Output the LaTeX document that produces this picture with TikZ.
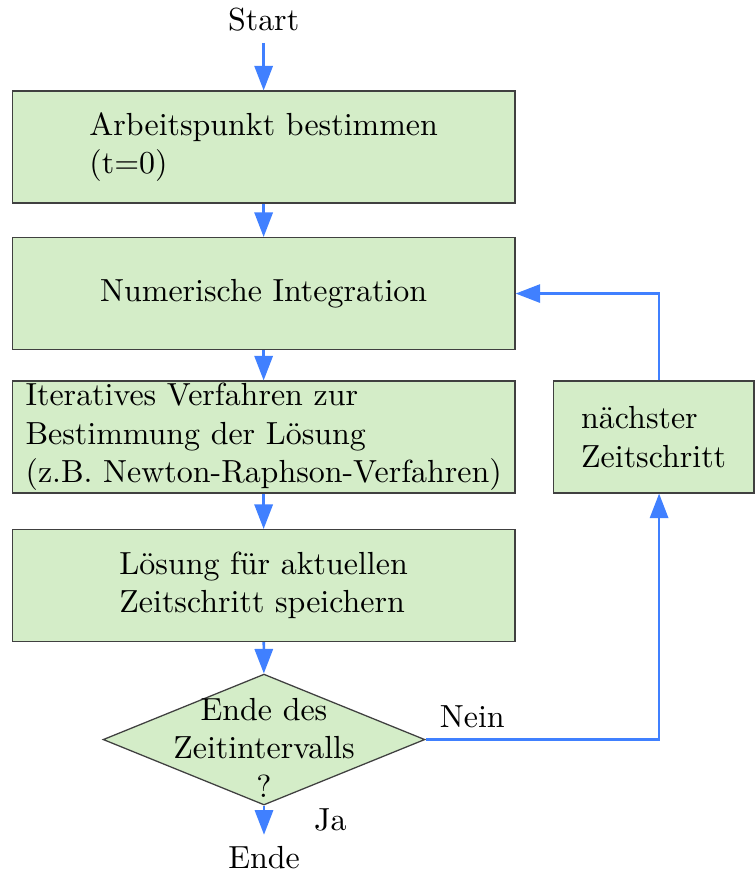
\documentclass[tikz,border=0pt]{standalone}
\usepackage{tikz}
\usetikzlibrary{arrows.meta, positioning, shapes.geometric}
\definecolor{boxgreen}{RGB}{212,237,200}
\definecolor{flowblue}{RGB}{64,128,255}

\begin{document}
\begin{tikzpicture}[
  block/.style={rectangle, draw=black!75, fill=boxgreen, minimum width=5.53cm, minimum height=1.23cm, align=left},
  decision/.style={diamond, draw=black!75, fill=boxgreen, minimum width=3.54cm, minimum height=1.44cm, inner sep=0pt},
  flow/.style={draw=flowblue, line width=0.8pt, -{Triangle[length=2.7mm, width=2mm]}}
]
  \useasboundingbox (0,0) rectangle (8.294,-9.581);
  % Main column
  \node (start) at (2.9,-0.22) {Start};
  \node[block] (op) at (2.9,-1.617) {Arbeitspunkt bestimmen\\(t=0)};
  \node[block] (integ) at (2.9,-3.229) {Numerische Integration};
  \node[block, inner ysep=0pt] (iter) at (2.9,-4.807) {Iteratives Verfahren zur\\Bestimmung der Lösung\\(z.B. Newton-Raphson-Verfahren)};
  \node[block] (save) at (2.9,-6.441) {Lösung für aktuellen\\Zeitschritt speichern};
  \node[decision] (dec) at (2.904,-8.135) {};
  \node[align=center] (dectext) at ([yshift=-0.09cm]dec.center) {Ende des\\Zeitintervalls\\?};
  \node (ende) at (2.904,-9.43) {Ende};
  % Loop back
  \node[block, minimum width=2.21cm] (next) at (7.19,-4.807) {nächster\\Zeitschritt};
  \coordinate (loop) at (7.25,0);
  % Connectors
  \draw[flow] (start) -- (op);
  \draw[flow] (op) -- (integ);
  \draw[flow] (integ) -- (iter);
  \draw[flow] (iter) -- (save);
  \draw[flow] (save) -- (dec);
  \draw[flow] (dec) -- node[right=0.42cm] (ja) {Ja} (ende);
  \draw[flow] (dec.east) -| node[pos=0.1, above] (nein) {Nein} (loop |- next.south);
  \draw[flow] (loop |- next.north) |- (integ.east);
\end{tikzpicture}
\end{document}
